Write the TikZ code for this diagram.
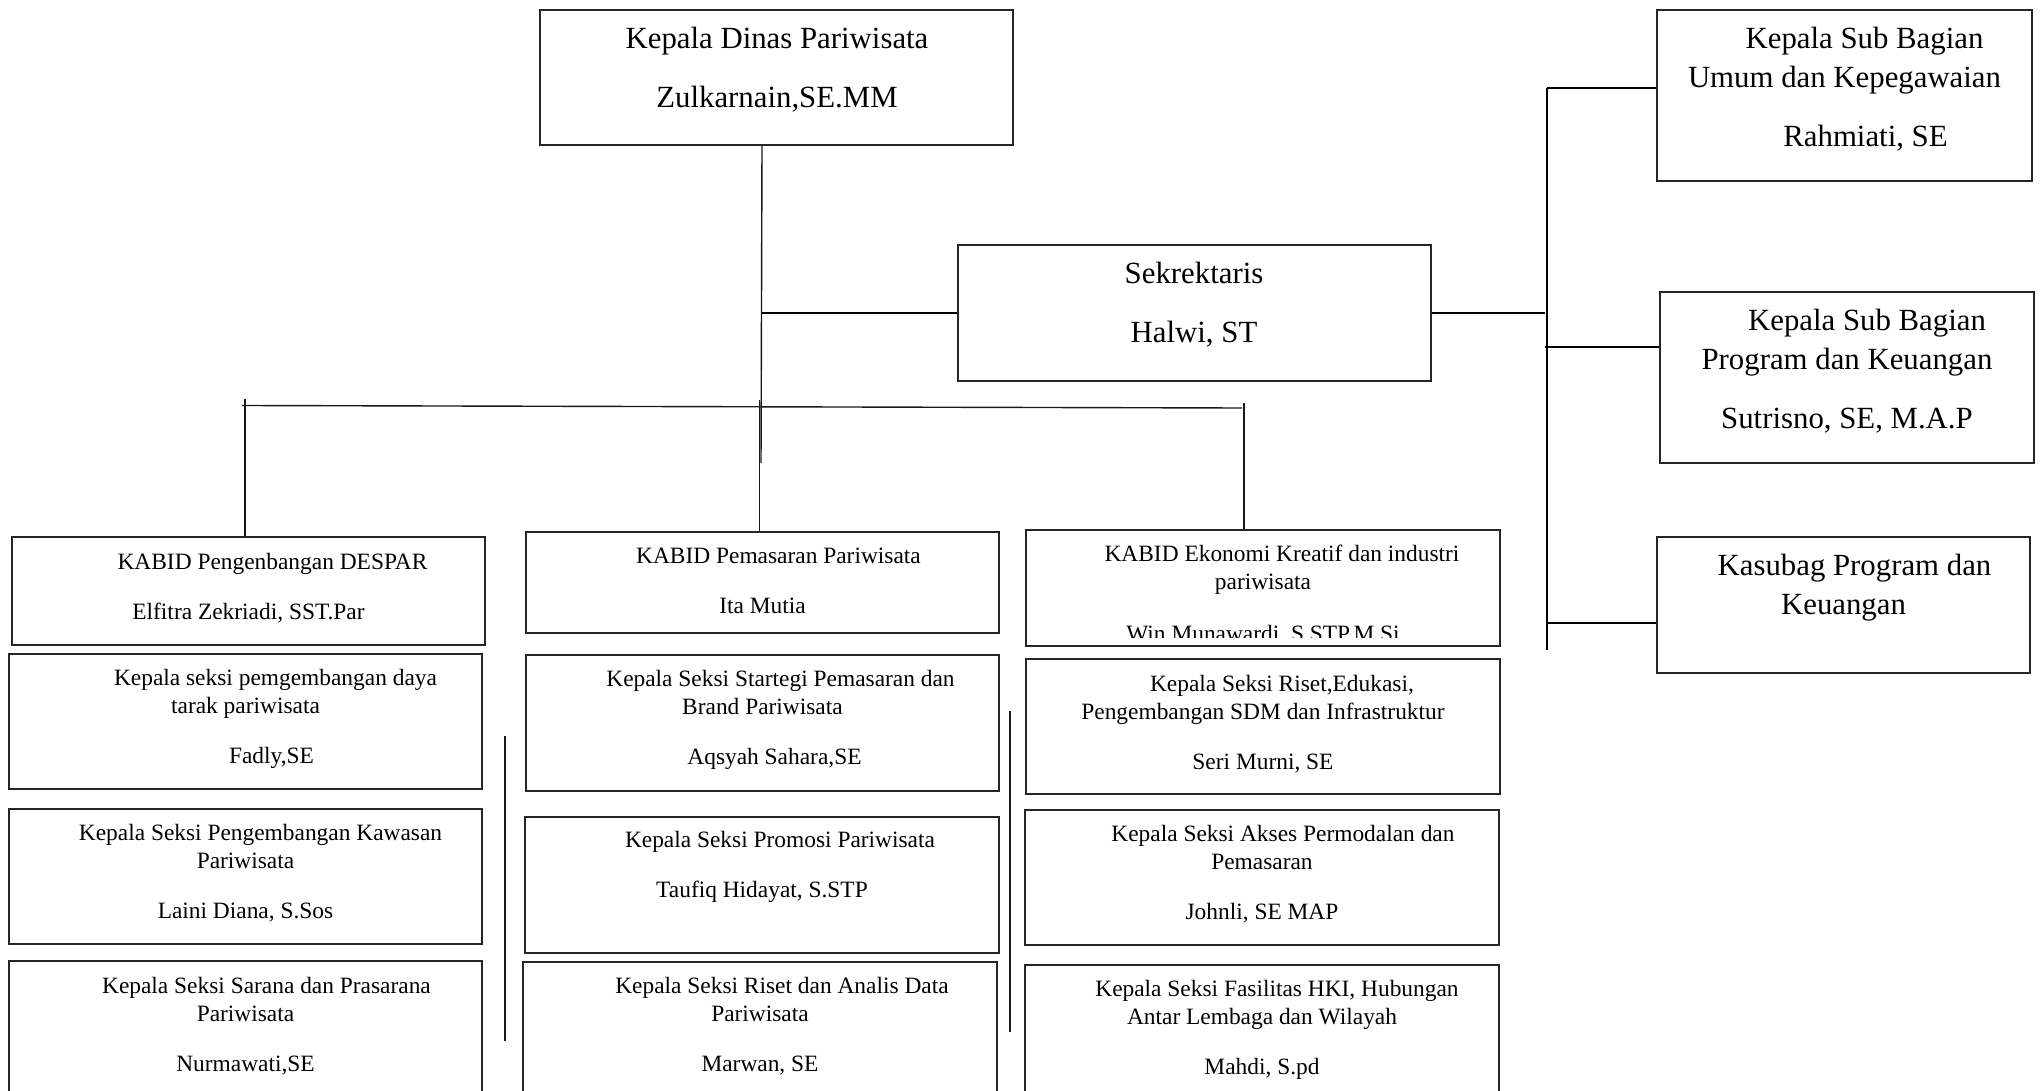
\documentclass[tikz,border=0pt]{standalone}
\usepackage{fontspec}
\setmainfont{Liberation Serif}
\newcommand\smf{\fontsize{11.7}{14}\selectfont}
\newcommand\bgf{\fontsize{15.4}{19.5}\selectfont}
\newcommand\mkbox[5]{\node[boxst, minimum width={(#4-#2)/2}, minimum height={(#5-#3)/2}] (#1) at ({(#2+#4)/2},{(#3+#5)/2}) {};}
\begin{document}
\begin{tikzpicture}[x=0.5pt,y=-0.5pt,
  boxst/.style={draw=black!85, line width=0.8pt, inner sep=0pt, rectangle},
  stxt/.style={font=\smf, align=center, inner sep=0pt, anchor=north},
  btxt/.style={font=\bgf, align=center, inner sep=0pt, anchor=north},
  conn/.style={draw=black!90, line width=0.7pt},
  conn2/.style={draw=black, line width=1.1pt}]
\useasboundingbox (0,0) rectangle (2042,1091);
% boxes
\mkbox{top}{540}{10}{1013}{145}
\mkbox{sek}{958}{245}{1431}{381}
\mkbox{r1}{1657}{10}{2032}{181}
\mkbox{r2}{1660}{292}{2034}{463}
\mkbox{r3}{1657}{537}{2030}{673}
\mkbox{kl}{12}{537}{485}{645}
\mkbox{l2}{9}{654}{482}{789}
\mkbox{l3}{9}{809}{482}{944}
\mkbox{l4}{9}{961}{482}{1110}
\mkbox{kp}{526}{532}{999}{633}
\mkbox{p2}{526}{655}{999}{791}
\mkbox{p3}{525}{817}{999}{953}
\mkbox{p4}{523}{962}{997}{1110}
\mkbox{ke}{1026}{530}{1500}{646}
\mkbox{e2}{1026}{659}{1500}{794}
\mkbox{e3}{1025}{810}{1499}{945}
\mkbox{e4}{1025}{965}{1499}{1110}
% texts
\node[btxt] (top-t) at (777,20.7) {\strut Kepala Dinas Pariwisata\\[10pt]Zulkarnain,SE.MM};
\node[btxt] (sek-t) at (1194,255.7) {\strut Sekrektaris\\[10pt]Halwi, ST};
\node[btxt] (r1-t) at (1844.5,20.7) {\strut\hspace*{20pt}Kepala Sub Bagian\\Umum dan Kepegawaian\\[10pt]\hspace*{21pt}Rahmiati, SE};
\node[btxt] (r2-t) at (1847,302.7) {\strut\hspace*{20pt}Kepala Sub Bagian\\Program dan Keuangan\\[10pt]Sutrisno, SE, M.A.P};
\node[btxt] (r3-t) at (1843.5,547.7) {\strut\hspace*{11pt}Kasubag Program dan\\Keuangan};
\node[stxt] (kl-t) at (248.5,549.4) {\strut\hspace*{24pt}KABID Pengenbangan DESPAR\\[11pt]Elfitra Zekriadi, SST.Par};
\node[stxt] (l2-t) at (245.5,665.9) {\strut\hspace*{30pt}Kepala seksi pemgembangan daya\\tarak pariwisata\\[11pt]\hspace*{26pt}Fadly,SE};
\node[stxt] (l3-t) at (245.5,820.4) {\strut\hspace*{15pt}Kepala Seksi Pengembangan Kawasan\\Pariwisata\\[11pt]Laini Diana, S.Sos};
\node[stxt] (l4-t) at (245.5,973.1) {\strut\hspace*{21pt}Kepala Seksi Sarana dan Prasarana\\Pariwisata\\[11pt]Nurmawati,SE};
\node[stxt] (kp-t) at (762.5,543.4) {\strut\hspace*{16pt}KABID Pemasaran Pariwisata\\[11pt]Ita Mutia};
\node[stxt] (p2-t) at (762.5,666.9) {\strut\hspace*{18pt}Kepala Seksi Startegi Pemasaran dan\\Brand Pariwisata\\[11pt]\hspace*{12pt}Aqsyah Sahara,SE};
\node[stxt] (p3-t) at (762,827.4) {\strut\hspace*{18pt}Kepala Seksi Promosi Pariwisata\\[11pt]Taufiq Hidayat, S.STP};
\node[stxt] (p4-t) at (760,973.1) {\strut\hspace*{22pt}Kepala Seksi Riset dan Analis Data\\Pariwisata\\[11pt]Marwan, SE};
\begin{scope}
\clip (1026,530) rectangle (1500,637.5);
\node[stxt] (ke-t) at (1263,541.1) {\strut\hspace*{19pt}KABID Ekonomi Kreatif dan industri\\pariwisata\\[12.2pt]Win Munawardi, S.STP.M.Si};
\end{scope}
\node[stxt] (e2-t) at (1263,671.4) {\strut\hspace*{19pt}Kepala Seksi Riset,Edukasi,\\Pengembangan SDM dan Infrastruktur\\[11pt]Seri Murni, SE};
\node[stxt] (e3-t) at (1262,821.1) {\strut\hspace*{21pt}Kepala Seksi Akses Permodalan dan\\Pemasaran\\[11pt]Johnli, SE MAP};
\node[stxt] (e4-t) at (1262,976.4) {\strut\hspace*{15pt}Kepala Seksi Fasilitas HKI, Hubungan\\Antar Lembaga dan Wilayah\\[11pt]Mahdi, S.pd};
% connectors
\coordinate (jm) at (762,313);
\coordinate (jend) at (761,463);
\draw[conn] (top.south -| jm) -- (jend);
\draw[conn2] (jm) -- (sek.west);
\coordinate (rb0) at (1545,313);
\coordinate (rbT) at (1547,88);
\coordinate (rbB) at (1547,650);
\draw[conn2] (sek.east) -- (rb0);
\draw[conn2] (rbT) -- (rbB);
\coordinate (rb2) at (1545,347);
\coordinate (rb3) at (1548,623);
\draw[conn2] (rbT) -- (rbT -| r1.west);
\draw[conn2] (rb2) -- (rb2 -| r2.west);
\draw[conn2] (rb3) -- (rb3 -| r3.west);
\coordinate (busL) at (242,405.5);
\coordinate (busR) at (1242,408);
\draw[conn] (busL) -- (busR);
\coordinate (tL) at (245,399);
\draw[conn] (tL) -- (tL |- kl.north);
\coordinate (tM) at (759.5,400);
\draw[conn] (tM) -- (tM |- kp.north);
\coordinate (tR) at (1244,403);
\draw[conn] (tR) -- (tR |- ke.north);
\coordinate (fa1) at (505,736);
\coordinate (fa2) at (505,1041);
\draw[conn] (fa1) -- (fa2);
\coordinate (fb1) at (1010,711);
\coordinate (fb2) at (1010,1032);
\draw[conn] (fb1) -- (fb2);
\end{tikzpicture}
\end{document}
